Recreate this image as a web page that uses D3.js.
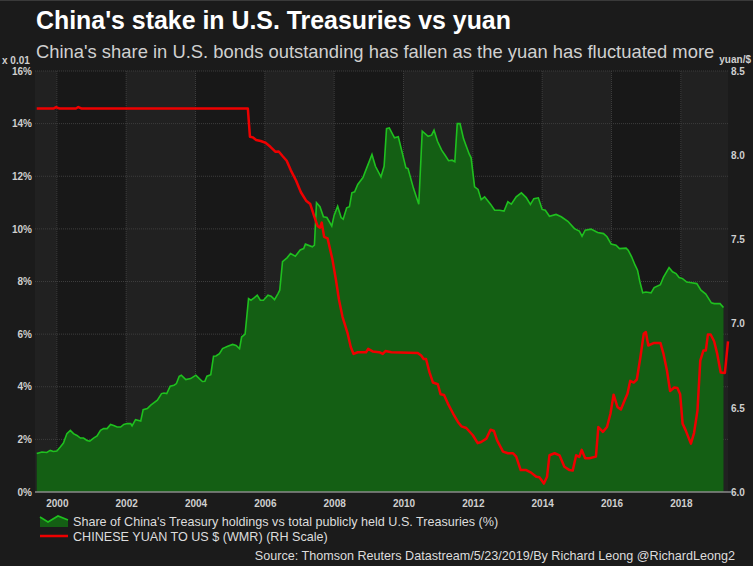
<!DOCTYPE html>
<html>
<head>
<meta charset="utf-8">
<script src="https://cdn.jsdelivr.net/npm/d3@7"></script>
<style>
  html, body { margin: 0; padding: 0; background: #1b1b1b; }
  svg { display: block; }
</style>
</head>
<body>
<script>
// share of China's holdings in total U.S. Treasuries (%), [year, value]
var shareSeries = [
  [1999.42, 1.46], [1999.57, 1.52], [1999.71, 1.50], [1999.81, 1.58], [1999.90, 1.54], [2000.00, 1.56],
  [2000.10, 1.71], [2000.19, 1.86], [2000.29, 2.22], [2000.39, 2.34], [2000.48, 2.22], [2000.58, 2.15],
  [2000.68, 2.05], [2000.77, 2.05], [2000.87, 1.96], [2000.95, 1.93], [2001.06, 2.05], [2001.16, 2.13],
  [2001.26, 2.34], [2001.35, 2.41], [2001.45, 2.41], [2001.55, 2.57], [2001.64, 2.53], [2001.74, 2.47],
  [2001.84, 2.47], [2001.93, 2.57], [2002.03, 2.60], [2002.13, 2.60], [2002.17, 2.51], [2002.27, 2.75],
  [2002.42, 2.70], [2002.49, 3.13], [2002.61, 3.17], [2002.71, 3.30], [2002.90, 3.49], [2003.02, 3.74],
  [2003.09, 3.76], [2003.17, 3.74], [2003.27, 4.02], [2003.38, 4.06], [2003.45, 4.12], [2003.53, 4.40],
  [2003.59, 4.44], [2003.72, 4.27], [2003.86, 4.31], [2004.01, 4.44], [2004.11, 4.31], [2004.20, 4.20],
  [2004.27, 4.21], [2004.33, 4.40], [2004.44, 4.46], [2004.52, 5.16], [2004.59, 5.17], [2004.69, 5.26],
  [2004.78, 5.45], [2004.93, 5.54], [2005.07, 5.61], [2005.17, 5.57], [2005.27, 5.45], [2005.33, 5.89],
  [2005.43, 6.00], [2005.53, 7.35], [2005.60, 7.29], [2005.70, 7.39], [2005.78, 7.48], [2005.87, 7.29],
  [2005.96, 7.29], [2006.09, 7.48], [2006.18, 7.44], [2006.28, 7.31], [2006.38, 7.54], [2006.43, 7.67],
  [2006.51, 8.75], [2006.64, 8.90], [2006.74, 9.06], [2006.88, 8.96], [2007.02, 9.20], [2007.12, 9.25],
  [2007.17, 9.42], [2007.37, 9.32], [2007.43, 9.38], [2007.49, 10.99], [2007.59, 10.84], [2007.69, 10.46],
  [2007.79, 10.43], [2007.93, 10.11], [2008.00, 10.52], [2008.10, 10.86], [2008.20, 10.43], [2008.26, 10.37],
  [2008.36, 10.80], [2008.44, 10.84], [2008.51, 11.37], [2008.59, 11.41], [2008.68, 11.69], [2008.83, 11.95],
  [2008.93, 12.29], [2009.09, 12.83], [2009.19, 12.38], [2009.35, 11.98], [2009.44, 12.38], [2009.51, 13.81],
  [2009.59, 13.84], [2009.74, 13.46], [2009.85, 13.50], [2010.07, 12.32], [2010.13, 12.29], [2010.29, 11.53],
  [2010.44, 10.94], [2010.54, 13.71], [2010.71, 13.52], [2010.81, 13.56], [2010.88, 13.75], [2010.98, 13.33],
  [2011.10, 12.99], [2011.20, 12.80], [2011.30, 12.59], [2011.40, 12.61], [2011.48, 12.55], [2011.55, 14.00],
  [2011.63, 14.00], [2011.73, 13.43], [2011.80, 13.18], [2011.90, 12.83], [2011.95, 12.70], [2012.05, 11.60],
  [2012.15, 11.50], [2012.24, 11.11], [2012.34, 11.22], [2012.51, 10.94], [2012.63, 10.71], [2012.77, 10.71],
  [2012.90, 10.68], [2013.01, 11.03], [2013.11, 10.94], [2013.25, 11.22], [2013.40, 11.37], [2013.54, 11.19],
  [2013.66, 10.93], [2013.76, 11.15], [2013.89, 11.18], [2014.00, 10.74], [2014.09, 10.71], [2014.21, 10.48],
  [2014.40, 10.55], [2014.55, 10.46], [2014.74, 10.29], [2014.93, 10.01], [2015.07, 9.92], [2015.15, 9.72],
  [2015.24, 9.95], [2015.41, 9.99], [2015.60, 9.86], [2015.77, 9.82], [2015.87, 9.70], [2015.99, 9.42],
  [2016.13, 9.38], [2016.23, 9.25], [2016.42, 9.27], [2016.48, 9.19], [2016.58, 8.94], [2016.68, 8.62],
  [2016.75, 8.43], [2016.82, 7.98], [2016.90, 7.57], [2016.99, 7.60], [2017.14, 7.57], [2017.23, 7.77],
  [2017.41, 7.88], [2017.50, 8.17], [2017.66, 8.53], [2017.76, 8.37], [2017.86, 8.30], [2017.95, 8.15],
  [2018.05, 8.11], [2018.17, 7.98], [2018.31, 7.95], [2018.46, 7.92], [2018.58, 7.67], [2018.72, 7.52],
  [2018.88, 7.19], [2018.96, 7.16], [2019.13, 7.16], [2019.23, 7.01]
]

// chinese yuan per US dollar, [year, value]
var yuanSeries = [
  [1999.42, 8.277], [1999.90, 8.277], [1999.98, 8.286], [2000.08, 8.277], [2000.55, 8.277], [2000.62, 8.286],
  [2000.72, 8.277], [2005.51, 8.277], [2005.57, 8.110], [2005.65, 8.106], [2005.75, 8.090], [2005.88, 8.084],
  [2006.02, 8.074], [2006.16, 8.050], [2006.31, 8.020], [2006.40, 8.022], [2006.51, 7.995], [2006.63, 7.967],
  [2006.75, 7.910], [2006.90, 7.850], [2007.04, 7.780], [2007.19, 7.730], [2007.31, 7.710], [2007.42, 7.640],
  [2007.52, 7.580], [2007.59, 7.570], [2007.64, 7.600], [2007.71, 7.515], [2007.81, 7.506], [2007.95, 7.380],
  [2008.05, 7.260], [2008.14, 7.140], [2008.24, 7.040], [2008.39, 6.940], [2008.48, 6.860], [2008.56, 6.820],
  [2008.68, 6.830], [2008.92, 6.830], [2008.98, 6.850], [2009.11, 6.835], [2009.30, 6.830], [2009.40, 6.820],
  [2009.48, 6.837], [2009.65, 6.830], [2010.41, 6.826], [2010.51, 6.810], [2010.58, 6.790], [2010.65, 6.790],
  [2010.75, 6.710], [2010.85, 6.650], [2010.99, 6.640], [2011.07, 6.580], [2011.17, 6.576], [2011.28, 6.525],
  [2011.43, 6.466], [2011.57, 6.416], [2011.67, 6.390], [2011.81, 6.380], [2012.00, 6.337], [2012.14, 6.290],
  [2012.24, 6.297], [2012.39, 6.317], [2012.51, 6.370], [2012.61, 6.362], [2012.70, 6.307], [2012.87, 6.240],
  [2013.01, 6.230], [2013.16, 6.230], [2013.25, 6.210], [2013.38, 6.130], [2013.54, 6.130], [2013.68, 6.115],
  [2013.83, 6.090], [2013.92, 6.087], [2014.05, 6.050], [2014.14, 6.090], [2014.21, 6.218], [2014.36, 6.230],
  [2014.50, 6.218], [2014.64, 6.150], [2014.79, 6.130], [2014.88, 6.127], [2014.98, 6.218], [2015.07, 6.208],
  [2015.14, 6.250], [2015.24, 6.200], [2015.36, 6.200], [2015.55, 6.210], [2015.62, 6.386], [2015.75, 6.357],
  [2015.87, 6.386], [2015.97, 6.466], [2016.06, 6.578], [2016.17, 6.505], [2016.27, 6.490], [2016.37, 6.540],
  [2016.46, 6.584], [2016.54, 6.660], [2016.64, 6.650], [2016.73, 6.668], [2016.83, 6.796], [2016.93, 6.940],
  [2016.99, 6.950], [2017.06, 6.870], [2017.23, 6.885], [2017.41, 6.885], [2017.50, 6.820], [2017.60, 6.720],
  [2017.69, 6.600], [2017.81, 6.620], [2017.90, 6.618], [2017.98, 6.580], [2018.05, 6.406], [2018.14, 6.366],
  [2018.29, 6.287], [2018.38, 6.350], [2018.48, 6.485], [2018.56, 6.780], [2018.65, 6.840], [2018.72, 6.840],
  [2018.78, 6.935], [2018.86, 6.935], [2018.96, 6.895], [2019.05, 6.820], [2019.15, 6.710], [2019.27, 6.707],
  [2019.36, 6.895]
]

var yearTicks = [2000, 2002, 2004, 2006, 2008, 2010, 2012, 2014, 2016, 2018]
var shareTicks = [0, 2, 4, 6, 8, 10, 12, 14, 16]
var yuanTicks = [6.0, 6.5, 7.0, 7.5, 8.0, 8.5]
var bandStarts = [1998, 2000, 2002, 2004, 2006, 2008, 2010, 2012, 2014, 2016, 2018]

var title = "China's stake in U.S. Treasuries vs yuan"
var subtitle = "China's share in U.S. bonds outstanding has fallen as the yuan has fluctuated more"
var legendShare = "Share of China's Treasury holdings vs total publicly held U.S. Treasuries (%)"
var legendYuan = "CHINESE YUAN TO US $ (WMR) (RH Scale)"
var source = "Source: Thomson Reuters Datastream/5/23/2019/By Richard Leong @RichardLeong2"

var W = 753, H = 566
var plot = {left: 35, right: 728, top: 71, bottom: 492}

var svg = d3.select('body')
  .append('svg')
  .attr('width', W)
  .attr('height', H)
  .style('font-family', 'Liberation Sans, Arial, sans-serif')

svg.append('rect')
  .attr('width', W).attr('height', H)
  .attr('fill', '#1b1b1b')
svg.append('line')
  .attr('x1', 0).attr('x2', W).attr('y1', 0.5).attr('y2', 0.5)
  .attr('stroke', '#3a3a3a')

var x = d3.scaleLinear().domain([1999.37, 2019.36]).range([plot.left, plot.right])
var yL = d3.scaleLinear().domain([0, 16]).range([plot.bottom, plot.top])
var yR = d3.scaleLinear().domain([6, 8.5]).range([plot.bottom, plot.top])

// alternating two year bands
svg.append('g')
  .selectAll('rect')
  .data(bandStarts)
  .join('rect')
  .attr('x', d => Math.max(plot.left, x(d)))
  .attr('width', d => Math.min(plot.right, x(d + 2)) - Math.max(plot.left, x(d)))
  .attr('y', plot.top)
  .attr('height', plot.bottom - plot.top)
  .attr('fill', d => (d / 2) % 2 == 1 ? '#212121' : '#181818')

// grid
var grid = svg.append('g')
  .attr('stroke', '#3d3d3d')
  .attr('stroke-dasharray', '1,1')
grid.selectAll('.gx')
  .data(yearTicks)
  .join('line')
  .attr('x1', d => x(d)).attr('x2', d => x(d))
  .attr('y1', plot.top).attr('y2', plot.bottom)
grid.selectAll('.gy')
  .data(shareTicks.slice(1))
  .join('line')
  .attr('x1', plot.left).attr('x2', plot.right)
  .attr('y1', d => yL(d)).attr('y2', d => yL(d))

// green area
var area = d3.area()
  .x(d => x(d[0]))
  .y0(yL(0))
  .y1(d => yL(d[1]))
svg.append('path')
  .datum(shareSeries)
  .attr('d', area)
  .attr('fill', '#145f14')
svg.append('path')
  .datum(shareSeries)
  .attr('d', d3.line().x(d => x(d[0])).y(d => yL(d[1])))
  .attr('fill', 'none')
  .attr('stroke', '#1fc01f')
  .attr('stroke-width', 1.6)

// red line
svg.append('path')
  .datum(yuanSeries)
  .attr('d', d3.line().x(d => x(d[0])).y(d => yR(d[1])))
  .attr('fill', 'none')
  .attr('stroke', '#ee0000')
  .attr('stroke-width', 2.5)
  .attr('stroke-linejoin', 'round')

// axes
var axisB = svg.append('g')
  .attr('transform', 'translate(0,' + plot.bottom + ')')
  .call(d3.axisBottom(x).tickValues(yearTicks).tickFormat(d3.format('d')).tickSize(0).tickPadding(8))
axisB.select('.domain').attr('stroke', '#8a8a8a').attr('stroke-width', 1.5)
  .attr('d', 'M' + plot.left + ',0H' + (plot.right + 3))

var axisL = svg.append('g')
  .attr('transform', 'translate(' + plot.left + ',0)')
  .call(d3.axisLeft(yL).tickValues(shareTicks).tickFormat(d => d + '%').tickSize(0).tickPadding(3))
axisL.select('.domain').remove()

var axisR = svg.append('g')
  .attr('transform', 'translate(' + plot.right + ',0)')
  .call(d3.axisRight(yR).tickValues(yuanTicks).tickFormat(d3.format('.1f')).tickSize(0).tickPadding(3))
axisR.select('.domain').remove()

svg.selectAll('.tick text')
  .attr('fill', '#cfcfcf')
  .style('font-size', '10px')
  .style('font-weight', 'bold')
  .style('font-family', 'Liberation Sans, Arial, sans-serif')

svg.append('text')
  .attr('x', 2).attr('y', 64)
  .attr('fill', '#cfcfcf').style('font-size', '10px').style('font-weight', 'bold')
  .text('x 0.01')
svg.append('text')
  .attr('x', 751).attr('y', 63)
  .attr('text-anchor', 'end')
  .attr('fill', '#cfcfcf').style('font-size', '10px').style('font-weight', 'bold')
  .text('yuan/$')

// titles
svg.append('text')
  .attr('x', 36).attr('y', 29)
  .attr('fill', '#ffffff')
  .style('font-size', '24.9px').style('font-weight', 'bold')
  .text(title)
svg.append('text')
  .attr('x', 36).attr('y', 58)
  .attr('fill', '#d0d0d0')
  .style('font-size', '18.4px')
  .text(subtitle)

// legend
var leg = svg.append('g')
leg.append('path')
  .attr('d', 'M40,517L48,522L58,516L68,520L68,527L40,527Z')
  .attr('fill', '#145f14')
leg.append('path')
  .attr('d', 'M40,517L48,522L58,516L68,520')
  .attr('fill', 'none').attr('stroke', '#1fc01f').attr('stroke-width', 1.6)
leg.append('line')
  .attr('x1', 40).attr('x2', 68).attr('y1', 536).attr('y2', 536)
  .attr('stroke', '#ee0000').attr('stroke-width', 2.5)
leg.append('text')
  .attr('x', 73).attr('y', 526)
  .attr('fill', '#dddddd').style('font-size', '12.6px')
  .text(legendShare)
leg.append('text')
  .attr('x', 73).attr('y', 541)
  .attr('fill', '#dddddd').style('font-size', '12.6px')
  .text(legendYuan)

svg.append('text')
  .attr('x', 735).attr('y', 560)
  .attr('text-anchor', 'end')
  .attr('fill', '#dddddd').style('font-size', '12.6px')
  .text(source)
</script>
</body>
</html>
